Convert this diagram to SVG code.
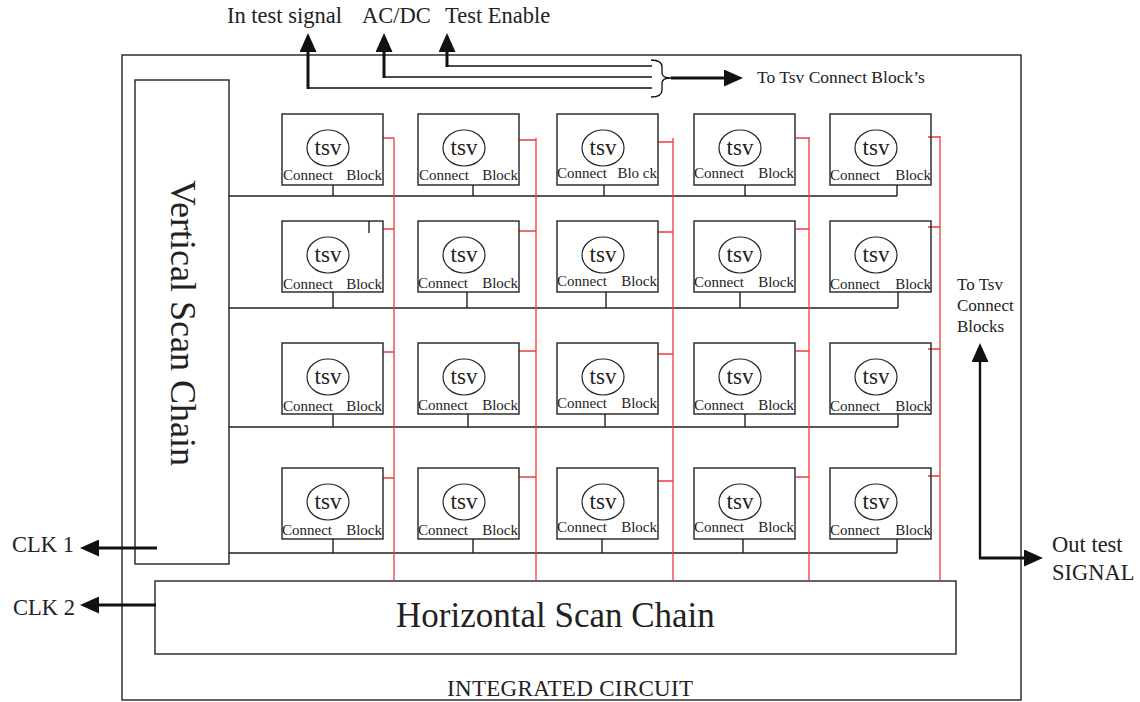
<svg xmlns="http://www.w3.org/2000/svg" width="1140" height="702" viewBox="0 0 1140 702">
<defs>
<marker id="ah" markerUnits="userSpaceOnUse" viewBox="0 0 19 17" markerWidth="19" markerHeight="17" refX="3" refY="8.5" orient="auto"><path d="M0,0 L19,8.5 L0,17 Z" fill="#111"/></marker>
<style>
text{font-family:"Liberation Serif","Times New Roman",serif;fill:#222}
.box{fill:none;stroke:#222;stroke-width:1.4}
.ell{fill:none;stroke:#222;stroke-width:1.2}
.tsv{font-size:23px;text-anchor:middle}
.cb{font-size:15px}
.end{text-anchor:end}
.bus{stroke:#222;stroke-width:1.4;fill:none}
.red{stroke:#ec3b3b;stroke-width:1.3;fill:none}
.thin{stroke:#111;stroke-width:1.4;fill:none}
.thick{stroke:#111;stroke-width:3;fill:none;marker-end:url(#ah)}
.lbl{font-size:22.5px}
.big{font-size:35px}
</style>
<g id="blk">
<rect class="box" x="0" y="0" width="101" height="71"/>
<ellipse class="ell" cx="46" cy="34" rx="21" ry="18"/>
<text class="tsv" x="46" y="41">tsv</text>
</g>
</defs>

<g id="ic">
<rect class="box" x="122" y="55" width="899" height="645"/>
<text x="447" y="696" style="font-size:23px" textLength="246">INTEGRATED CIRCUIT</text>
</g>

<g id="vsc">
<rect class="box" x="135" y="80" width="94" height="484"/>
<text class="big" style="font-size:36px" text-anchor="middle" transform="translate(171,323) rotate(90)">Vertical Scan Chain</text>
</g>

<g id="hsc">
<rect class="box" x="155" y="581" width="801" height="73"/>
<text class="big" x="396" y="627">Horizontal Scan Chain</text>
</g>

<!-- connectors -->
<g id="connectors">
<!-- row buses -->
<path class="bus" d="M229,196 H897 M333,185 V196 M473,185 V196 M604,185 V196 M745,185 V196 M897,185 V196"/>
<path class="bus" d="M229,308 H898 M333,292 V308 M467,292 V308 M606,292 V308 M740,292 V308 M898,292 V308 M369,221 V233"/>
<path class="bus" d="M229,427 H898 M333,414 V427 M468,414 V427 M605,414 V427 M745,414 V427 M898,414 V427"/>
<path class="bus" d="M229,553 H897 M333,539 V553 M473,539 V553 M602,539 V553 M743,539 V553 M897,539 V553"/>
<!-- red column lines -->
<path class="red" d="M394,138 V581 M383,138 H394 M383,229 H394 M383,352 H394 M383,478 H394"/>
<path class="red" d="M536,138 V581 M519,140 H536 M519,231 H536 M519,351 H536 M519,477 H536"/>
<path class="red" d="M673,138 V581 M658,142 H673 M658,232 H673 M658,354 H673 M658,481 H673"/>
<path class="red" d="M809,137 V581 M796,138 H809 M796,229 H809 M796,351 H809 M796,477 H809"/>
<path class="red" d="M940,136 V581 M928,137 H940 M928,227 H940 M928,349 H940 M928,476 H940"/>
<!-- top signals -->
<path class="thin" d="M308,88 H652 M384,77 H652 M447,66 H652"/>
<line class="thick" x1="308" y1="89" x2="308" y2="49"/>
<line class="thick" x1="384" y1="78" x2="384" y2="49"/>
<line class="thick" x1="447" y1="67" x2="447" y2="49"/>
<path class="thin" style="stroke-width:1.3" d="M651,60 Q662,60 662,67 L662,73 Q662,78 671,78 Q662,78 662,83 L662,90 Q662,97 651,97"/>
<line class="thick" x1="671" y1="78" x2="727" y2="78"/>
<!-- clocks -->
<line class="thick" x1="157" y1="548" x2="96" y2="548"/>
<line class="thick" x1="156" y1="605" x2="96" y2="605"/>
<!-- right side -->
<line class="thick" style="stroke-width:2.4" x1="980" y1="559" x2="980" y2="359"/>
<line class="thick" x1="979" y1="558" x2="1027" y2="558"/>
</g>

<g id="labels">
<text class="lbl" x="227" y="23">In test signal</text>
<text class="lbl" x="362" y="23">AC/DC</text>
<text class="lbl" x="445" y="23">Test Enable</text>
<text x="757" y="83" style="font-size:17.5px">To Tsv Connect Block’s</text>
<text class="lbl" x="12" y="552">CLK 1</text>
<text class="lbl" x="13" y="615">CLK 2</text>
<text style="font-size:17px" x="957" y="290">To Tsv</text>
<text style="font-size:17px" x="957" y="311">Connect</text>
<text style="font-size:17px" x="957" y="332">Blocks</text>
<text class="lbl" x="1052" y="552">Out test</text>
<text class="lbl" x="1052" y="580">SIGNAL</text>
</g>

<!-- row 1 -->
<g id="cb-1-1" transform="translate(282,114)"><use href="#blk"/><text class="cb" x="1" y="66">Connect</text><text class="cb end" x="100" y="66">Block</text></g>
<g id="cb-1-2" transform="translate(418,114)"><use href="#blk"/><text class="cb" x="1" y="66">Connect</text><text class="cb end" x="100" y="66">Block</text></g>
<g id="cb-1-3" transform="translate(557,114)"><use href="#blk"/><text class="cb" x="0" y="64">Connect</text><text class="cb end" x="100" y="64">Blo ck</text></g>
<g id="cb-1-4" transform="translate(694,114)"><use href="#blk"/><text class="cb" x="0" y="64">Connect</text><text class="cb end" x="100" y="64">Block</text></g>
<g id="cb-1-5" transform="translate(830,114)"><use href="#blk"/><text class="cb" x="0" y="66">Connect</text><text class="cb end" x="101" y="66">Block</text></g>
<!-- row 2 -->
<g id="cb-2-1" transform="translate(282,221)"><use href="#blk"/><text class="cb" x="1" y="68">Connect</text><text class="cb end" x="100" y="68">Block</text></g>
<g id="cb-2-2" transform="translate(418,221)"><use href="#blk"/><text class="cb" x="0" y="67">Connect</text><text class="cb end" x="100" y="67">Block</text></g>
<g id="cb-2-3" transform="translate(557,221)"><use href="#blk"/><text class="cb" x="0" y="65">Connect</text><text class="cb end" x="100" y="65">Block</text></g>
<g id="cb-2-4" transform="translate(694,221)"><use href="#blk"/><text class="cb" x="0" y="66">Connect</text><text class="cb end" x="100" y="66">Block</text></g>
<g id="cb-2-5" transform="translate(830,221)"><use href="#blk"/><text class="cb" x="0" y="68">Connect</text><text class="cb end" x="101" y="68">Block</text></g>
<!-- row 3 -->
<g id="cb-3-1" transform="translate(282,343)"><use href="#blk"/><text class="cb" x="1" y="68">Connect</text><text class="cb end" x="100" y="68">Block</text></g>
<g id="cb-3-2" transform="translate(418,343)"><use href="#blk"/><text class="cb" x="0" y="67">Connect</text><text class="cb end" x="100" y="67">Block</text></g>
<g id="cb-3-3" transform="translate(557,343)"><use href="#blk"/><text class="cb" x="0" y="65">Connect</text><text class="cb end" x="100" y="65">Block</text></g>
<g id="cb-3-4" transform="translate(694,343)"><use href="#blk"/><text class="cb" x="0" y="67">Connect</text><text class="cb end" x="100" y="67">Block</text></g>
<g id="cb-3-5" transform="translate(830,343)"><use href="#blk"/><text class="cb" x="0" y="68">Connect</text><text class="cb end" x="101" y="68">Block</text></g>
<!-- row 4 -->
<g id="cb-4-1" transform="translate(282,468)"><use href="#blk"/><text class="cb" x="0" y="67">Connect</text><text class="cb end" x="100" y="67">Block</text></g>
<g id="cb-4-2" transform="translate(418,468)"><use href="#blk"/><text class="cb" x="0" y="67">Connect</text><text class="cb end" x="100" y="67">Block</text></g>
<g id="cb-4-3" transform="translate(557,468)"><use href="#blk"/><text class="cb" x="0" y="64">Connect</text><text class="cb end" x="100" y="64">Block</text></g>
<g id="cb-4-4" transform="translate(694,468)"><use href="#blk"/><text class="cb" x="0" y="64">Connect</text><text class="cb end" x="100" y="64">Block</text></g>
<g id="cb-4-5" transform="translate(830,468)"><use href="#blk"/><text class="cb" x="0" y="67">Connect</text><text class="cb end" x="101" y="67">Block</text></g>
</svg>
